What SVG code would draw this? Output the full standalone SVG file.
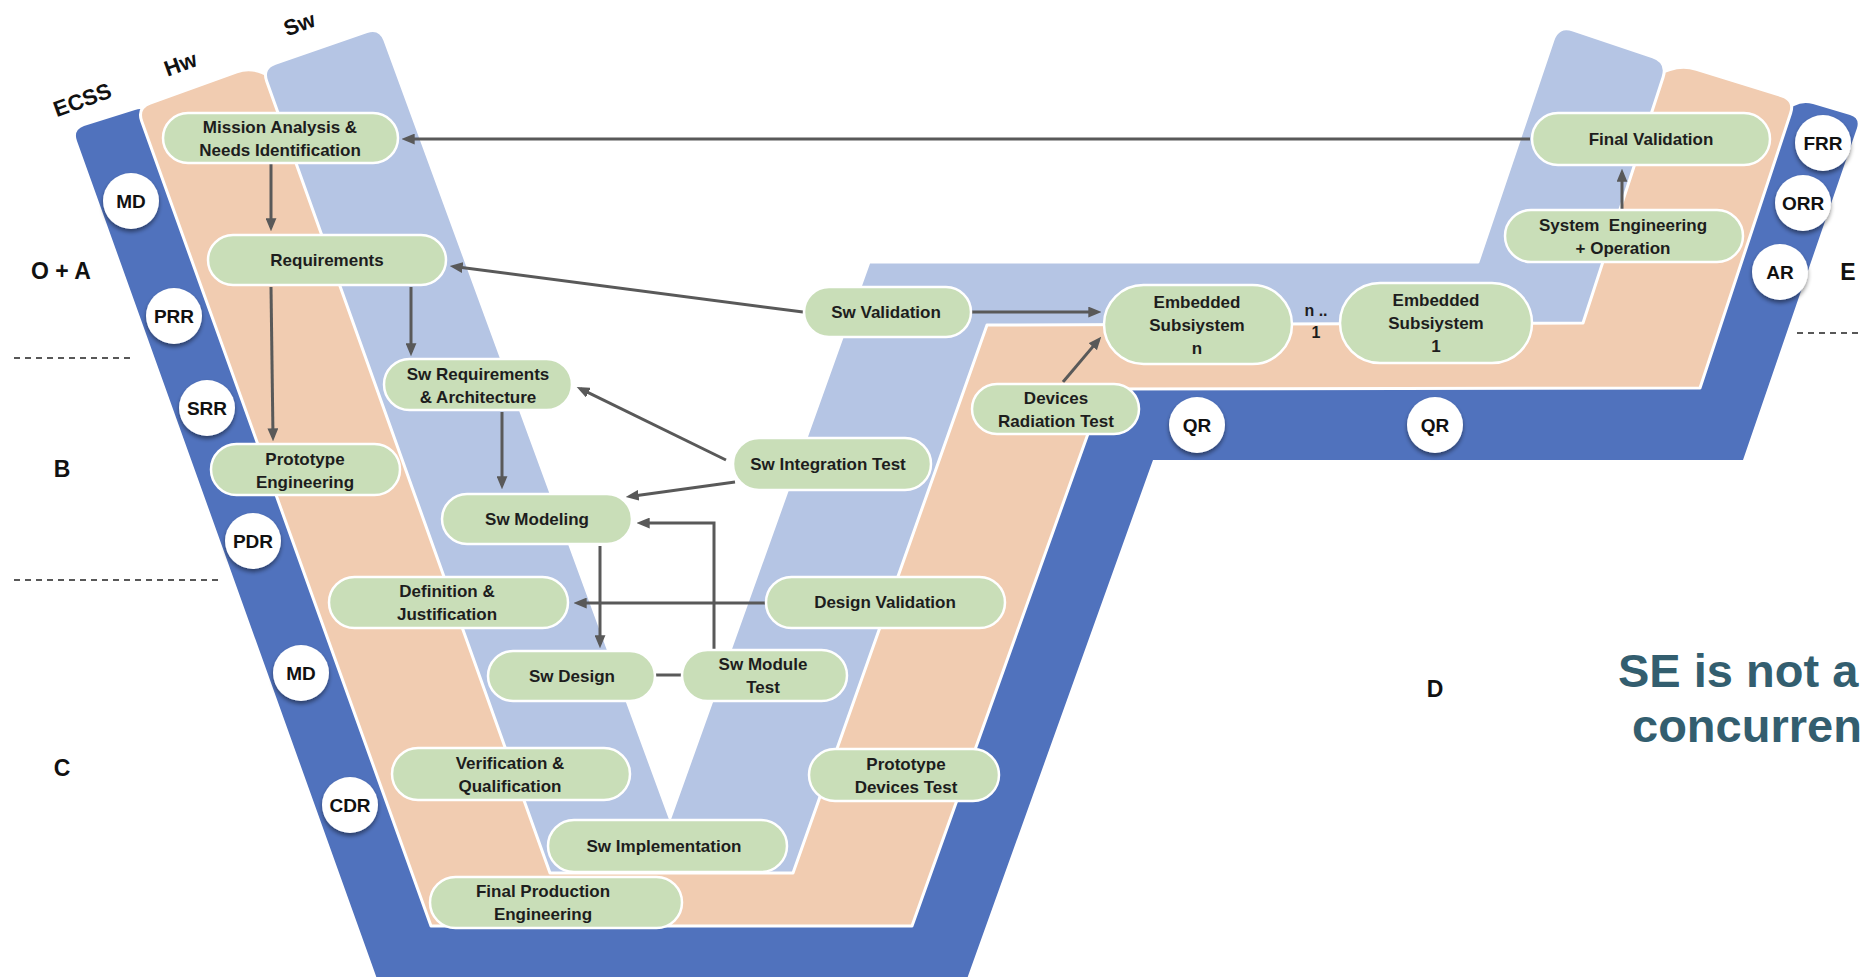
<svg xmlns="http://www.w3.org/2000/svg" width="1863" height="977" viewBox="0 0 1863 977">
  <defs>
    <style>
      .lbl { font-family: "Liberation Sans", Arial, sans-serif; font-weight: bold; fill: #1d1d1d; }
      .node rect { fill: #C9DEB8; stroke: #ffffff; stroke-width: 2.5; }
      .node text { font-family: "Liberation Sans", Arial, sans-serif; font-weight: bold; font-size: 17px; fill: #1d1d1d; text-anchor: middle; }
      .gate circle { fill: #ffffff; filter: url(#shadow); }
      .gate text { font-family: "Liberation Sans", Arial, sans-serif; font-weight: bold; font-size: 19px; fill: #111111; text-anchor: middle; }
      .phase { font-family: "Liberation Sans", Arial, sans-serif; font-weight: bold; font-size: 23px; fill: #111111; text-anchor: middle; }
      .band-label { font-family: "Liberation Sans", Arial, sans-serif; font-weight: bold; font-size: 22px; fill: #111111; text-anchor: middle; }
      .conn line, .conn polyline { stroke: #595959; stroke-width: 3; fill: none; }
      .arrow { marker-end: url(#head); }
      .dash { stroke: #222222; stroke-width: 1.5; stroke-dasharray: 6 5; }
      .slogan { font-family: "Liberation Sans", Arial, sans-serif; font-weight: bold; font-size: 47px; fill: #335E6F; }
    </style>
    <filter id="shadow" x="-30%" y="-30%" width="160%" height="170%">
      <feDropShadow dx="0" dy="3" stdDeviation="2" flood-color="#000000" flood-opacity="0.45"/>
    </filter>
    <marker id="head" viewBox="0 0 12 10" markerWidth="13" markerHeight="11" refX="8" refY="5" orient="auto" markerUnits="userSpaceOnUse">
      <path d="M0,0 L12,5 L0,10 Z" fill="#595959"/>
    </marker>
  </defs>

  <rect width="1863" height="977" fill="#ffffff"/>

  <!-- three stacked V bands: ECSS reviews, hardware, software -->
  <g id="bands">
    <path id="band-ecss" fill="#5072BD" d="M 381,990 L 77,141 Q 73,130 84,126 L 135,110 Q 146,106 149,117 L 152,130 L 437,918 L 905,918 L 1097,384 L 1692,383 L 1782,113 L 1794,106 Q 1803,101 1813,104 L 1850,115 Q 1860,118 1857,128 L 1743,460 L 1153,460 L 963,990 Z"/>
    <path id="band-hw" fill="#F1CCB1" stroke="#ffffff" stroke-width="3" stroke-linejoin="round" d="M 431,926 L 141.7,121.2 Q 137,108 150.2,103.2 L 236.8,71.8 Q 250,67 263,73 L 300,85 L 572,850 L 771,850 L 966,300 L 1561,300 L 1639,80 L 1669.8,69.5 Q 1683,65 1696.4,69.2 L 1781.6,95.8 Q 1795,100 1790.6,113.3 L 1700,388 L 1104,389 L 912,926 Z"/>
    <path id="band-sw" fill="#B5C5E4" stroke="#ffffff" stroke-width="3" stroke-linejoin="round" d="M 550,873 L 266.7,81.2 Q 262,68 275.2,63.4 L 366.8,31.6 Q 380,27 384.8,40.1 L 670,818 L 869,262 L 1478,262 L 1552.9,40.2 Q 1558,25 1573.2,30.1 L 1652.8,56.9 Q 1668,62 1663.1,77.2 L 1583,323 L 987,325 L 793,873 Z"/>
  </g>

  <!-- band titles -->
  <g id="band-titles">
    <text class="band-label" transform="translate(85,107) rotate(-20)">ECSS</text>
    <text class="band-label" transform="translate(183,71) rotate(-20)">Hw</text>
    <text class="band-label" transform="translate(302,31) rotate(-20)">Sw</text>
  </g>

  <!-- phase separators and phase letters -->
  <g id="phases">
    <line class="dash" x1="14" y1="358" x2="134" y2="358"/>
    <line class="dash" x1="14" y1="580" x2="220" y2="580"/>
    <line class="dash" x1="1797" y1="333" x2="1863" y2="333"/>
    <text class="phase" x="61" y="279">O + A</text>
    <text class="phase" x="62" y="477">B</text>
    <text class="phase" x="62" y="776">C</text>
    <text class="phase" x="1435" y="697">D</text>
    <text class="phase" x="1848" y="280">E</text>
  </g>

  <!-- connectors -->
  <g id="connectors" class="conn">
    <line class="arrow" x1="1530" y1="139" x2="406" y2="139"/>
    <line class="arrow" x1="271" y1="164" x2="271" y2="227"/>
    <line class="arrow" x1="803" y1="312" x2="454" y2="266.5"/>
    <line class="arrow" x1="271" y1="287" x2="273" y2="437"/>
    <line class="arrow" x1="411" y1="287" x2="411" y2="352"/>
    <line class="arrow" x1="726" y1="460" x2="580.6" y2="388.8"/>
    <line class="arrow" x1="735" y1="482" x2="630" y2="496.5"/>
    <line class="arrow" x1="502" y1="412" x2="502" y2="485"/>
    <polyline class="arrow" points="714,649 714,523 641,523"/>
    <line class="arrow" x1="600" y1="546" x2="600" y2="644"/>
    <line class="arrow" x1="765" y1="603" x2="578" y2="603"/>
    <line x1="655" y1="675" x2="682" y2="675"/>
    <line class="arrow" x1="972" y1="312" x2="1097" y2="312"/>
    <line class="arrow" x1="1063" y1="382" x2="1098.4" y2="340.1"/>
    <line class="arrow" x1="1622" y1="209" x2="1622" y2="173"/>
  </g>

  <!-- process steps -->
  <g id="mission" class="node">
    <rect x="163" y="113" width="235" height="50" rx="25"/>
    <text x="280" y="133">Mission Analysis &amp;</text>
    <text x="280" y="156">Needs Identification</text>
  </g>
  <g id="requirements" class="node">
    <rect x="208" y="235" width="238" height="50" rx="25"/>
    <text x="327" y="266">Requirements</text>
  </g>
  <g id="sw-requirements" class="node">
    <rect x="384" y="359" width="188" height="51" rx="25.5"/>
    <text x="478" y="380">Sw Requirements</text>
    <text x="478" y="403">&amp; Architecture</text>
  </g>
  <g id="prototype-engineering" class="node">
    <rect x="211" y="444" width="189" height="51" rx="25.5"/>
    <text x="305" y="465">Prototype</text>
    <text x="305" y="488">Engineering</text>
  </g>
  <g id="sw-modeling" class="node">
    <rect x="442" y="494" width="190" height="50" rx="25"/>
    <text x="537" y="525">Sw Modeling</text>
  </g>
  <g id="definition" class="node">
    <rect x="329" y="577" width="239" height="51" rx="25.5"/>
    <text x="447" y="597">Definition &amp;</text>
    <text x="447" y="620">Justification</text>
  </g>
  <g id="sw-integration-test" class="node">
    <rect x="733" y="438" width="198" height="52" rx="26"/>
    <text x="828" y="470">Sw Integration Test</text>
  </g>
  <g id="design-validation" class="node">
    <rect x="766" y="577" width="239" height="51" rx="25.5"/>
    <text x="885" y="608">Design Validation</text>
  </g>
  <g id="sw-design" class="node">
    <rect x="488" y="651" width="167" height="50" rx="25"/>
    <text x="572" y="682">Sw Design</text>
  </g>
  <g id="sw-module-test" class="node">
    <rect x="682" y="650" width="165" height="51" rx="25.5"/>
    <text x="763" y="670">Sw Module</text>
    <text x="763" y="693">Test</text>
  </g>
  <g id="verification" class="node">
    <rect x="392" y="748" width="238" height="52" rx="26"/>
    <text x="510" y="769">Verification &amp;</text>
    <text x="510" y="792">Qualification</text>
  </g>
  <g id="sw-implementation" class="node">
    <rect x="548" y="820" width="239" height="52" rx="26"/>
    <text x="664" y="852">Sw Implementation</text>
  </g>
  <g id="final-production" class="node">
    <rect x="430" y="877" width="252" height="51" rx="25.5"/>
    <text x="543" y="897">Final Production</text>
    <text x="543" y="920">Engineering</text>
  </g>
  <g id="prototype-devices-test" class="node">
    <rect x="809" y="749" width="190" height="52" rx="26"/>
    <text x="906" y="770">Prototype</text>
    <text x="906" y="793">Devices Test</text>
  </g>
  <g id="sw-validation" class="node">
    <rect x="804" y="287" width="167" height="50" rx="25"/>
    <text x="886" y="318">Sw Validation</text>
  </g>
  <g id="devices-radiation-test" class="node">
    <rect x="972" y="384" width="167" height="50" rx="25"/>
    <text x="1056" y="404">Devices</text>
    <text x="1056" y="427">Radiation Test</text>
  </g>
  <g id="embedded-n" class="node">
    <rect x="1104" y="285" width="188" height="79" rx="39.5"/>
    <text x="1197" y="308">Embedded</text>
    <text x="1197" y="331">Subsiystem</text>
    <text x="1197" y="354">n</text>
  </g>
  <g id="embedded-1" class="node">
    <rect x="1340" y="283" width="192" height="80" rx="40"/>
    <text x="1436" y="306">Embedded</text>
    <text x="1436" y="329">Subsiystem</text>
    <text x="1436" y="352">1</text>
  </g>
  <g id="system-engineering" class="node">
    <rect x="1505" y="210" width="238" height="52" rx="26"/>
    <text x="1623" y="231" xml:space="preserve">System  Engineering</text>
    <text x="1623" y="254">+ Operation</text>
  </g>
  <g id="final-validation" class="node">
    <rect x="1532" y="113" width="238" height="52" rx="26"/>
    <text x="1651" y="145">Final Validation</text>
  </g>

  <!-- multiplicity between subsystems -->
  <g id="multiplicity">
    <text class="lbl" x="1316" y="316" font-size="16" text-anchor="middle">n ..</text>
    <text class="lbl" x="1316" y="338" font-size="16" text-anchor="middle">1</text>
  </g>

  <!-- review gates -->
  <g id="gate-md1" class="gate"><circle cx="131" cy="201" r="28"/><text x="131" y="208">MD</text></g>
  <g id="gate-prr" class="gate"><circle cx="174" cy="316" r="28"/><text x="174" y="323">PRR</text></g>
  <g id="gate-srr" class="gate"><circle cx="207" cy="408" r="28"/><text x="207" y="415">SRR</text></g>
  <g id="gate-pdr" class="gate"><circle cx="253" cy="541" r="28"/><text x="253" y="548">PDR</text></g>
  <g id="gate-md2" class="gate"><circle cx="301" cy="673" r="28"/><text x="301" y="680">MD</text></g>
  <g id="gate-cdr" class="gate"><circle cx="350" cy="805" r="28"/><text x="350" y="812">CDR</text></g>
  <g id="gate-qr1" class="gate"><circle cx="1197" cy="425" r="28"/><text x="1197" y="432">QR</text></g>
  <g id="gate-qr2" class="gate"><circle cx="1435" cy="425" r="28"/><text x="1435" y="432">QR</text></g>
  <g id="gate-frr" class="gate"><circle cx="1823" cy="143" r="28"/><text x="1823" y="150">FRR</text></g>
  <g id="gate-orr" class="gate"><circle cx="1803" cy="203" r="28"/><text x="1803" y="210">ORR</text></g>
  <g id="gate-ar" class="gate"><circle cx="1780" cy="272" r="28"/><text x="1780" y="279">AR</text></g>

  <!-- headline -->
  <g id="headline">
    <text class="slogan" x="1618" y="687">SE is not a</text>
    <text class="slogan" x="1632" y="742">concurren</text>
  </g>
</svg>
